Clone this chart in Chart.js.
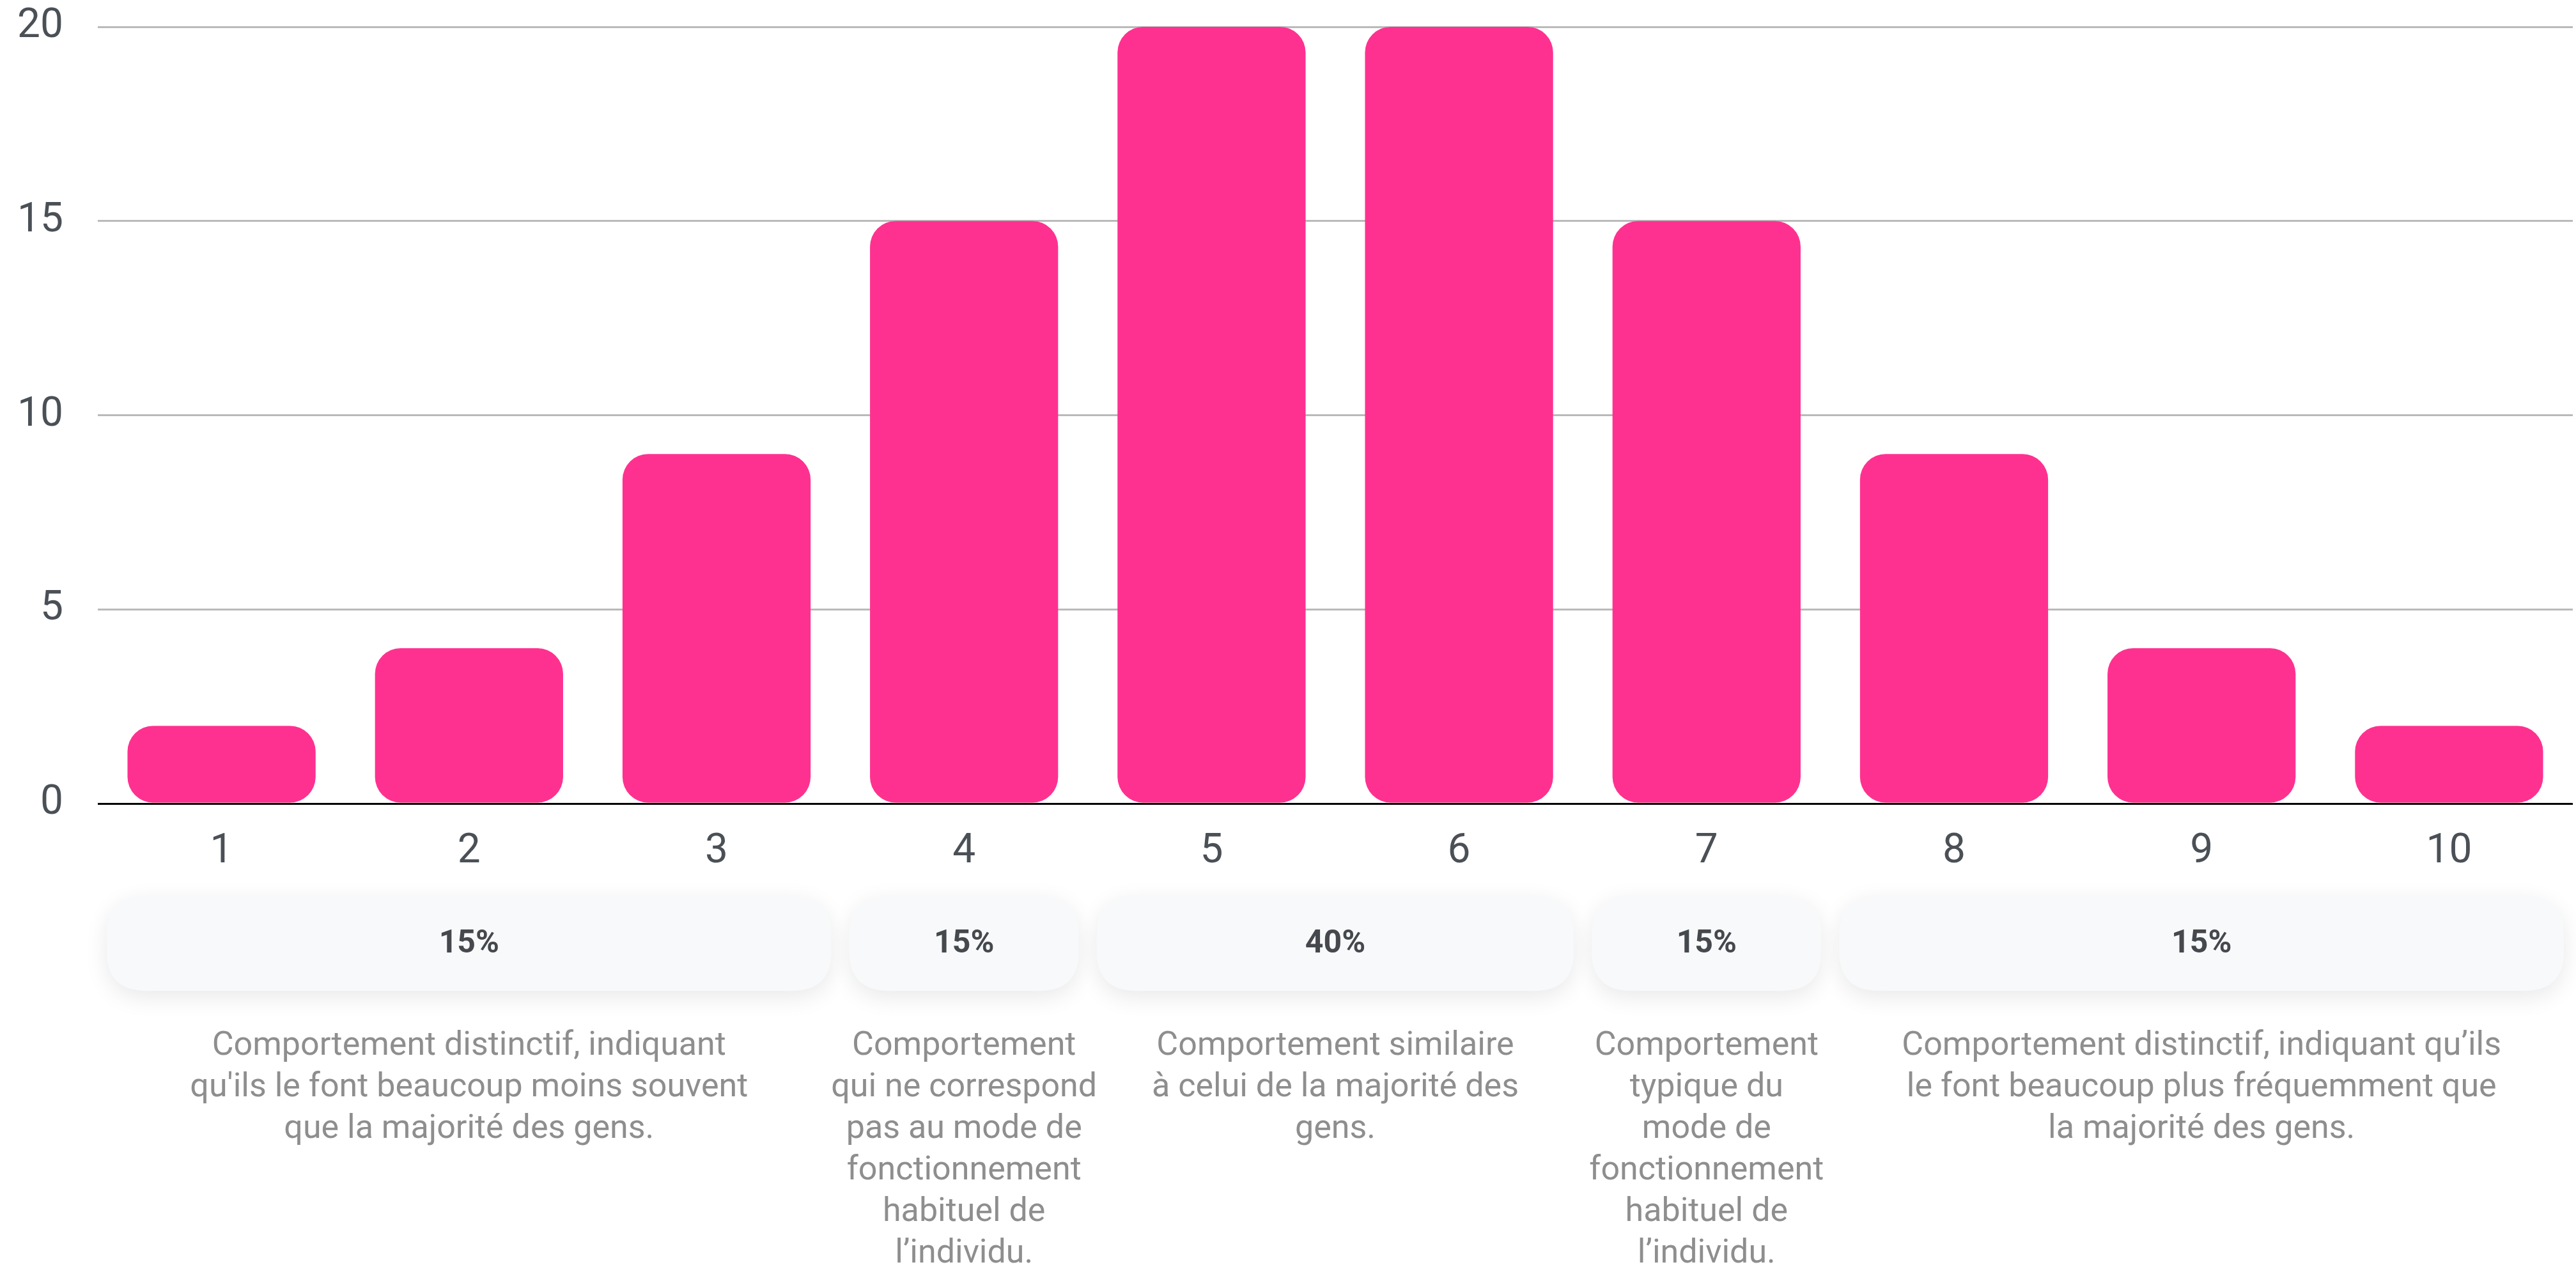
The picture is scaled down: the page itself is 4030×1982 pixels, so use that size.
<!DOCTYPE html>
<html>
<head>
<meta charset="utf-8">
<script src="https://cdn.jsdelivr.net/npm/chart.js@4.4.1/dist/chart.umd.min.js"></script>
<style>
  html, body { margin: 0; padding: 0; background: #ffffff; }
  #wrap { width: 4030px; height: 1982px; position: relative; }
</style>
</head>
<body>
<div id="wrap"><canvas id="myChart"></canvas></div>
<script>
'use strict';

let categories = ['1', '2', '3', '4', '5', '6', '7', '8', '9', '10'];
let counts = [2, 4, 9, 15, 20, 20, 15, 9, 4, 2];
let yTicks = [0, 5, 10, 15, 20];

// groups of categories (first and last index) shown as pills under the axis
let groupFirst = [0, 3, 4, 6, 7];
let groupLast = [2, 3, 5, 6, 9];
let groupShares = ['15%', '15%', '40%', '15%', '15%'];
let groupTexts = [
    ['Comportement distinctif, indiquant', 'qu\'ils le font beaucoup moins souvent', 'que la majorité des gens.'],
    ['Comportement', 'qui ne correspond', 'pas au mode de', 'fonctionnement', 'habituel de', 'l’individu.'],
    ['Comportement similaire', 'à celui de la majorité des', 'gens.'],
    ['Comportement', 'typique du', 'mode de', 'fonctionnement', 'habituel de', 'l’individu.'],
    ['Comportement distinctif, indiquant qu’ils', 'le font beaucoup plus fréquemment que', 'la majorité des gens.']
];

function roundRect(ctx, x, y, w, h, r) {
    ctx.beginPath();
    ctx.moveTo(x + r, y);
    ctx.lineTo(x + w - r, y);
    ctx.quadraticCurveTo(x + w, y, x + w, y + r);
    ctx.lineTo(x + w, y + h - r);
    ctx.quadraticCurveTo(x + w, y + h, x + w - r, y + h);
    ctx.lineTo(x + r, y + h);
    ctx.quadraticCurveTo(x, y + h, x, y + h - r);
    ctx.lineTo(x, y + r);
    ctx.quadraticCurveTo(x, y, x + r, y);
    ctx.closePath();
}

let groupPlugin = {
    id: 'groupPills',
    afterDraw: function (chart) {
        let ctx = chart.ctx;
        let xScale = chart.scales.x;
        let catWidth = xScale.width / categories.length;
        let pillTop = 1401;
        let pillHeight = 149;
        let inset = 14;

        for (let i = 0; i < groupShares.length; i++) {
            let left = xScale.getPixelForValue(groupFirst[i]) - catWidth / 2 + inset;
            let right = xScale.getPixelForValue(groupLast[i]) + catWidth / 2 - inset;
            let center = (left + right) / 2;

            ctx.save();
            ctx.shadowColor = 'rgba(0, 0, 0, 0.09)';
            ctx.shadowBlur = 36;
            ctx.shadowOffsetY = 10;
            ctx.fillStyle = '#f8f9fa';
            roundRect(ctx, left, pillTop, right - left, pillHeight, 62);
            ctx.fill();
            ctx.restore();

            ctx.save();
            ctx.fillStyle = '#45494e';
            ctx.font = 'bold 50px Roboto';
            ctx.textAlign = 'center';
            ctx.textBaseline = 'middle';
            ctx.fillText(groupShares[i], center, pillTop + pillHeight / 2 + 2);

            ctx.fillStyle = '#8e8e8e';
            ctx.font = '52px Roboto';
            ctx.textBaseline = 'alphabetic';
            for (let j = 0; j < groupTexts[i].length; j++) {
                ctx.fillText(groupTexts[i][j], center, 1650 + j * 65);
            }
            ctx.restore();
        }
    }
};

function chartRender() {
    let ctx = document.getElementById('myChart').getContext('2d');
    let myChart = new Chart(ctx, {
        type: 'bar',
        data: {
            labels: categories,
            datasets: [{
                data: counts,
                backgroundColor: '#ff3190',
                borderWidth: 0,
                borderRadius: 40,
                borderSkipped: false,
                barPercentage: 0.95,
                categoryPercentage: 0.8
            }]
        },
        options: {
            responsive: true,
            maintainAspectRatio: false,
            animation: false,
            devicePixelRatio: 1,
            layout: {
                padding: { top: 42, left: 27, right: 5, bottom: 614 }
            },
            plugins: {
                legend: { display: false },
                tooltip: { enabled: false }
            },
            scales: {
                x: {
                    grid: { display: false, drawTicks: false },
                    border: { display: false },
                    afterFit: function (axis) {
                        axis.height = 111;
                        axis.paddingLeft = 0;
                        axis.paddingRight = 0;
                    },
                    ticks: {
                        color: '#4a5056',
                        font: { family: 'Roboto', size: 64 },
                        padding: 38
                    }
                },
                y: {
                    min: 0,
                    max: 20,
                    afterBuildTicks: function (axis) {
                        axis.ticks = yTicks.map(function (v) { return { value: v }; });
                    },
                    afterFit: function (axis) {
                        axis.width = 126;
                        axis.paddingTop = 0;
                        axis.paddingBottom = 0;
                    },
                    grid: {
                        drawTicks: false,
                        lineWidth: 3,
                        color: function (c) {
                            return c.tick && c.tick.value === 0 ? '#000000' : '#bababa';
                        }
                    },
                    border: { display: false },
                    ticks: {
                        color: '#4a5056',
                        font: { family: 'Roboto', size: 64 },
                        padding: 54
                    }
                }
            }
        },
        plugins: [groupPlugin]
    });
}

chartRender();
</script>
</body>
</html>
